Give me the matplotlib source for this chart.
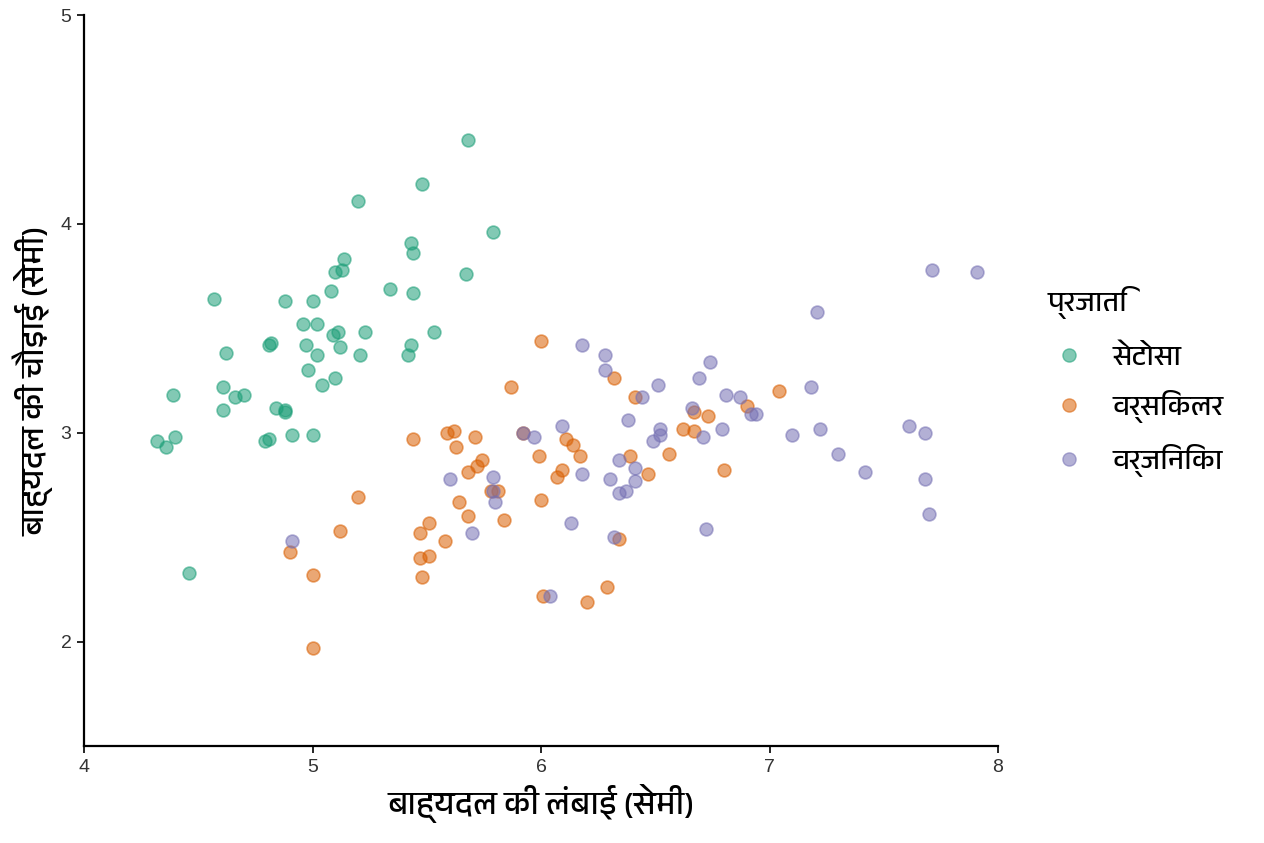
import matplotlib
matplotlib.use("Agg")
import matplotlib.pyplot as plt
from matplotlib import font_manager as fm
from matplotlib.ft2font import FT2Font
from matplotlib.lines import Line2D

# ---------------- data ----------------
species = ["सेटोसा", "वर्सिकलर", "वर्जिनिका"]
colors = ["#1b9e77", "#d95f02", "#7570b3"]

setosa_x = [5.68, 5.48, 5.20, 5.79, 5.43, 5.44, 5.14, 5.10, 5.13, 5.67,
            5.08, 5.34, 5.44, 4.57, 4.88, 5.00, 4.96, 5.02, 5.11, 5.09,
            5.23, 5.53, 4.82, 4.81, 4.97, 5.12, 5.43, 5.42, 5.02, 5.21,
            4.62, 4.98, 5.10, 5.04, 4.61, 4.70, 4.66, 4.39, 4.61, 4.84,
            4.88, 4.88, 4.91, 5.00, 4.32, 4.36, 4.40, 4.79, 4.81, 4.46]
setosa_y = [4.40, 4.19, 4.11, 3.96, 3.91, 3.86, 3.83, 3.77, 3.78, 3.76,
            3.68, 3.69, 3.67, 3.64, 3.63, 3.63, 3.52, 3.52, 3.48, 3.47,
            3.48, 3.48, 3.43, 3.42, 3.42, 3.41, 3.42, 3.37, 3.37, 3.37,
            3.38, 3.30, 3.26, 3.23, 3.22, 3.18, 3.17, 3.18, 3.11, 3.12,
            3.11, 3.10, 2.99, 2.99, 2.96, 2.93, 2.98, 2.96, 2.97, 2.33]

versicolor_x = [6.00, 5.87, 6.32, 6.41, 5.44, 5.59, 5.62, 5.71, 5.63, 5.74,
                5.72, 5.68, 5.92, 5.99, 6.11, 6.14, 6.17, 6.09, 6.07, 6.39,
                5.81, 5.78, 6.00, 5.20, 5.64, 5.68, 5.84, 5.51, 5.47, 5.58,
                5.12, 4.90, 5.51, 5.47, 5.00, 5.48, 6.34, 6.29, 6.01, 6.20,
                5.00, 7.04, 6.67, 6.73, 6.90, 6.62, 6.67, 6.56, 6.47, 6.80]
versicolor_y = [3.44, 3.22, 3.26, 3.17, 2.97, 3.00, 3.01, 2.98, 2.93, 2.87,
                2.84, 2.81, 3.00, 2.89, 2.97, 2.94, 2.89, 2.82, 2.79, 2.89,
                2.72, 2.72, 2.68, 2.69, 2.67, 2.60, 2.58, 2.57, 2.52, 2.48,
                2.53, 2.43, 2.41, 2.40, 2.32, 2.31, 2.49, 2.26, 2.22, 2.19,
                1.97, 3.20, 3.10, 3.08, 3.13, 3.02, 3.01, 2.90, 2.80, 2.82]

virginica_x = [6.18, 6.28, 6.28, 6.38, 6.09, 5.92, 5.97, 5.60, 5.79, 5.79,
               5.80, 5.70, 6.18, 6.13, 6.34, 6.41, 6.30, 6.41, 6.37, 6.34,
               6.32, 6.04, 4.91, 6.74, 6.69, 6.51, 7.18, 6.44, 6.81, 6.87,
               6.66, 6.92, 6.94, 6.52, 6.52, 6.79, 6.71, 6.49, 7.10, 7.22,
               7.61, 7.68, 7.30, 7.42, 7.68, 7.70, 6.72, 7.71, 7.91, 7.21]
virginica_y = [3.42, 3.37, 3.30, 3.06, 3.03, 3.00, 2.98, 2.78, 2.79, 2.72,
               2.67, 2.52, 2.80, 2.57, 2.87, 2.83, 2.78, 2.77, 2.72, 2.71,
               2.50, 2.22, 2.48, 3.34, 3.26, 3.23, 3.22, 3.17, 3.18, 3.17,
               3.12, 3.09, 3.09, 3.02, 2.99, 3.02, 2.98, 2.96, 2.99, 3.02,
               3.03, 3.00, 2.90, 2.81, 2.78, 2.61, 2.54, 3.78, 3.77, 3.58]

x_label = "बाह्यदल की लंबाई (सेमी)"
y_label = "बाह्यदल की चौड़ाई (सेमी)"
legend_title = "प्रजाति"
x_ticks = [4, 5, 6, 7, 8]
y_ticks = [2, 3, 4, 5]

# ---------------- fonts ----------------
deva = None
for f in fm.fontManager.ttflist:
    if "Devanagari" in f.name and "UI" not in f.name:
        deva = f.name
        break
if deva is None:
    for f in fm.fontManager.ttflist:
        try:
            if 0x0915 in FT2Font(f.fname).get_charmap():
                deva = f.name
                break
        except Exception:
            pass
fam = ([deva] if deva else []) + ["DejaVu Sans"]
plt.rcParams["font.family"] = fam

# ---------------- plot ----------------
fig = plt.figure(figsize=(12.64, 8.43), dpi=100)
ax = fig.add_axes([84 / 1264, 1 - 746 / 843, (998 - 84) / 1264, (746 - 15) / 843])

series = [(setosa_x, setosa_y), (versicolor_x, versicolor_y), (virginica_x, virginica_y)]
for (xs, ys), c, name in zip(series, colors, species):
    ax.scatter(xs, ys, s=85, color=c, alpha=0.55, edgecolors=c, linewidths=1.2, label=name, zorder=3)

ax.set_xlim(4, 8)
ax.set_ylim(1.5, 5)
ax.set_xticks(x_ticks)
ax.set_yticks(y_ticks)
for s in ["top", "right"]:
    ax.spines[s].set_visible(False)
for s in ["left", "bottom"]:
    ax.spines[s].set_linewidth(1.6)
    ax.spines[s].set_color("black")
ax.tick_params(axis="both", direction="out", length=5, width=1.2, colors="black",
               labelsize=14, labelcolor="#333333", pad=4)
for lab in ax.get_xticklabels() + ax.get_yticklabels():
    lab.set_family(["Liberation Sans", "DejaVu Sans"])

ax.set_xlabel(x_label, fontsize=23.5, labelpad=6)
ax.set_ylabel(y_label, fontsize=23.5, labelpad=5)

handles = [Line2D([0], [0], marker="o", linestyle="", markersize=9.5, markerfacecolor=c,
                  markeredgecolor=c, alpha=0.55) for c in colors]
leg = fig.legend(handles, species, title=legend_title, loc="upper left",
                 bbox_to_anchor=(1033 / 1264, 1 - 272 / 843), frameon=False,
                 fontsize=20.5, title_fontsize=20.5, handletextpad=0.8, labelspacing=0.72,
                 borderpad=0, handlelength=1.5)
leg._legend_box.align = "left"
leg._legend_box.sep = 18

fig.savefig("out.png", dpi=100, facecolor="white")
